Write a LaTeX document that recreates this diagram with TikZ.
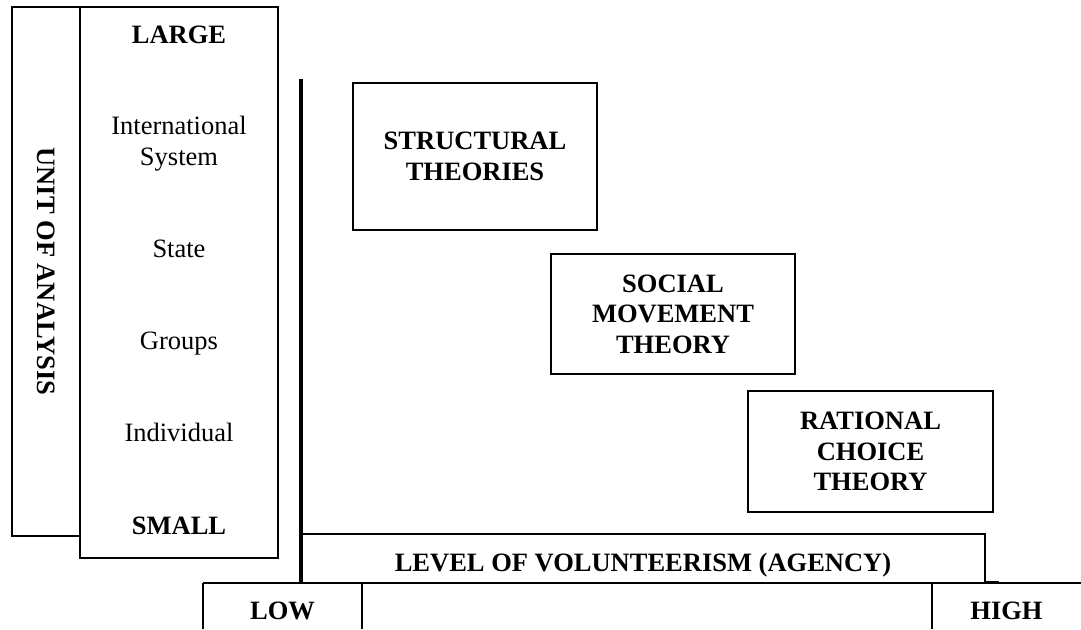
\documentclass[tikz,border=0pt]{standalone}
\usepackage{fontspec}
\setmainfont{Liberation Serif}
\begin{document}
\begin{tikzpicture}[x=1pt,y=-1pt,
    caja/.style={draw,line width=1.6pt,inner sep=0pt,outer sep=0pt,align=center,
        font=\fontsize{26.5}{30.5}\selectfont\bfseries},
    etiqueta/.style={inner sep=0pt,anchor=base,align=center,font=\fontsize{26.5}{30.5}\selectfont}]
\useasboundingbox (0,0) rectangle (1081,629);
    %Escala de la unidad de analisis
    \node[caja,rotate=-90,minimum width=529pt,minimum height=68pt] (unidad) at (46,271.5) {UNIT OF ANALYSIS};
    \node[caja,minimum width=198pt,minimum height=551pt] (escala) at (179,282.5) {};
    \node[etiqueta,font=\fontsize{26.5}{30.5}\selectfont\bfseries] (grande) at (179,43) {LARGE};
    \node[etiqueta] (sistema) at (179,165) {International\\System};
    \node[etiqueta] (estado) at (179,257) {State};
    \node[etiqueta] (grupos) at (179,349) {Groups};
    \node[etiqueta] (individuo) at (179,441) {Individual};
    \node[etiqueta,font=\fontsize{26.5}{30.5}\selectfont\bfseries] (chico) at (179,534) {SMALL};

    %Teorias
    \node[caja,minimum width=244pt,minimum height=147pt] (estructural) at (475,156.5) {STRUCTURAL\\THEORIES};
    \node[caja,minimum width=244pt,minimum height=120pt] (social) at (673,314) {SOCIAL\\MOVEMENT\\THEORY};
    \node[caja,minimum width=245pt,minimum height=121pt] (racional) at (870.5,451.5) {RATIONAL\\CHOICE\\THEORY};

    %Eje de voluntarismo
    \node[caja,minimum width=684pt,minimum height=49pt,text height=25pt,text depth=0pt] (nivel) at (643,558.5) {LEVEL OF VOLUNTEERISM (AGENCY)};
    \coordinate (ejeA) at (301,79);
    \coordinate (ejeB) at (301,583);
    \draw[line width=3.5pt] (ejeA) -- (ejeB);
    \draw[line width=1.6pt] (nivel.south east) ++(0,-1.5) -- ++(14,0);
    \coordinate (bajoA) at (203,629);
    \coordinate (altoA) at (1081,629);
    \draw[line width=2.4pt] (203,583) -- (1081,583);
    \draw[line width=1.6pt] (bajoA) -- (203,583) (362,583) -- (362,629) (932,583) -- (932,629);
    \node[etiqueta,font=\fontsize{26.5}{30.5}\selectfont\bfseries] (bajo) at (282.5,619) {LOW};
    \node[etiqueta,font=\fontsize{26.5}{30.5}\selectfont\bfseries] (alto) at (1006.5,619) {HIGH};
\end{tikzpicture}
\end{document}
